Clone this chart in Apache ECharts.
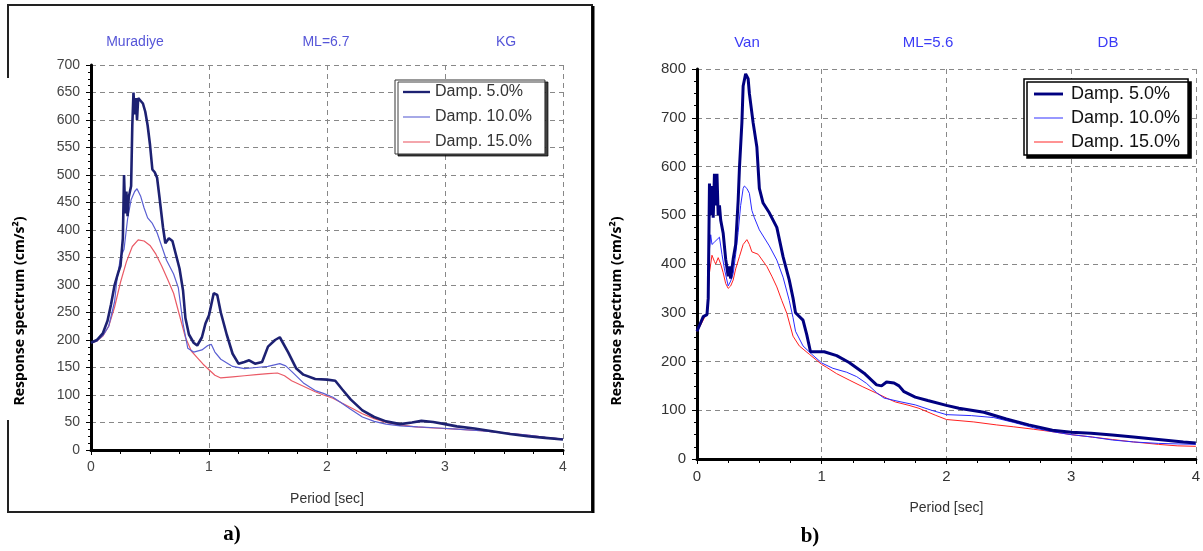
<!DOCTYPE html>
<html>
<head>
<meta charset="utf-8">
<script src="https://cdn.jsdelivr.net/npm/echarts@6/dist/echarts.min.js"></script>
<style>
  html, body { margin: 0; padding: 0; background: #fff; }
  #chart { width: 1203px; height: 551px; }
</style>
</head>
<body>
<div id="chart"></div>
<script>
// periods in sec, spectral acceleration in cm/s2
let seriesNames = ["Damp. 5.0%", "Damp. 10.0%", "Damp. 15.0%"];
let xTicks = [0, 1, 2, 3, 4];

// a) Muradiye, ML=6.7, KG
let muradiye5 = [[0,195],[0.05,200],[0.1,212],[0.14,235],[0.17,265],[0.2,300],[0.23,322],[0.25,335],[0.27,385],[0.28,500],[0.29,430],[0.3,470],[0.31,425],[0.32,460],[0.34,480],[0.35,590],[0.36,650],[0.37,610],[0.38,640],[0.39,600],[0.4,640],[0.42,635],[0.44,630],[0.46,615],[0.48,590],[0.5,555],[0.52,510],[0.54,505],[0.56,495],[0.58,460],[0.61,405],[0.63,376],[0.66,385],[0.69,380],[0.72,355],[0.75,330],[0.78,290],[0.8,240],[0.83,210],[0.87,195],[0.9,190],[0.94,205],[0.97,230],[1.0,245],[1.04,285],[1.07,282],[1.1,250],[1.15,210],[1.2,175],[1.25,157],[1.3,160],[1.34,163],[1.39,157],[1.45,160],[1.5,188],[1.56,200],[1.6,205],[1.67,178],[1.74,148],[1.8,137],[1.9,129],[2.0,128],[2.07,126],[2.13,110],[2.2,92],[2.3,72],[2.4,60],[2.5,52],[2.62,47],[2.72,50],[2.8,53],[2.9,51],[3.0,47],[3.1,43],[3.25,39],[3.4,34],[3.55,29],[3.7,25],[3.85,22],[4.0,19]];
let muradiye10 = [[0,195],[0.05,198],[0.1,208],[0.15,225],[0.2,270],[0.22,310],[0.25,350],[0.28,365],[0.31,420],[0.34,455],[0.37,470],[0.39,475],[0.42,462],[0.45,440],[0.48,422],[0.52,412],[0.56,395],[0.6,370],[0.64,345],[0.7,320],[0.74,295],[0.78,230],[0.82,185],[0.87,178],[0.94,182],[0.99,190],[1.02,192],[1.05,178],[1.1,165],[1.2,152],[1.3,148],[1.4,150],[1.5,152],[1.6,157],[1.65,153],[1.7,143],[1.8,122],[1.9,108],[1.97,103],[2.05,96],[2.12,86],[2.2,74],[2.3,60],[2.4,52],[2.5,47],[2.62,44],[2.77,42],[2.95,40],[3.1,38],[3.3,35],[3.5,31],[3.7,27],[3.85,23],[4.0,20]];
let muradiye15 = [[0,195],[0.05,198],[0.1,207],[0.15,225],[0.2,260],[0.25,305],[0.3,342],[0.35,370],[0.4,382],[0.45,380],[0.5,372],[0.55,356],[0.6,334],[0.65,310],[0.7,285],[0.75,245],[0.8,205],[0.85,180],[0.9,168],[0.95,156],[1.0,146],[1.05,136],[1.1,131],[1.2,133],[1.3,135],[1.4,137],[1.5,139],[1.58,140],[1.64,135],[1.7,126],[1.8,116],[1.9,106],[1.97,100],[2.05,94],[2.13,85],[2.22,75],[2.3,66],[2.4,57],[2.5,50],[2.6,46],[2.75,42],[2.9,40],[3.1,38],[3.3,35],[3.5,31],[3.7,27],[3.85,23],[4.0,20]];

// b) Van, ML=5.6, DB
let van5 = [[0,262],[0.03,280],[0.05,292],[0.08,296],[0.09,330],[0.1,565],[0.11,500],[0.12,560],[0.13,495],[0.14,585],[0.15,520],[0.16,585],[0.17,500],[0.18,520],[0.19,490],[0.21,463],[0.23,410],[0.25,375],[0.26,395],[0.27,370],[0.29,410],[0.31,440],[0.33,530],[0.34,595],[0.36,690],[0.37,765],[0.39,790],[0.4,792],[0.41,780],[0.42,750],[0.45,690],[0.48,640],[0.5,555],[0.53,525],[0.58,505],[0.64,475],[0.69,415],[0.74,367],[0.77,330],[0.79,300],[0.85,285],[0.88,255],[0.91,220],[0.96,220],[1.02,220],[1.12,212],[1.22,198],[1.34,176],[1.44,152],[1.48,150],[1.52,158],[1.58,156],[1.62,150],[1.66,138],[1.75,127],[1.85,120],[2.0,110],[2.1,104],[2.3,96],[2.48,82],[2.66,70],[2.85,59],[3.0,55],[3.16,53],[3.33,49],[3.5,45],[3.7,40],[3.9,35],[4.0,33]];
let van10 = [[0,262],[0.03,280],[0.05,292],[0.08,298],[0.09,330],[0.1,430],[0.11,460],[0.12,440],[0.14,445],[0.16,450],[0.18,455],[0.2,420],[0.22,390],[0.25,355],[0.27,365],[0.29,380],[0.31,420],[0.33,465],[0.35,520],[0.37,555],[0.38,560],[0.4,555],[0.42,545],[0.44,510],[0.46,495],[0.5,470],[0.58,437],[0.64,408],[0.69,373],[0.74,325],[0.77,290],[0.79,262],[0.85,232],[0.92,215],[1.0,197],[1.09,186],[1.2,178],[1.28,169],[1.36,155],[1.44,136],[1.5,125],[1.62,118],[1.75,111],[1.88,100],[2.0,91],[2.2,89],[2.38,85],[2.54,75],[2.7,64],[2.85,56],[3.0,50],[3.17,45],[3.33,39],[3.5,35],[3.7,32],[4.0,30]];
let van15 = [[0,262],[0.03,275],[0.05,285],[0.08,300],[0.1,382],[0.12,418],[0.14,405],[0.15,400],[0.17,413],[0.19,400],[0.21,382],[0.23,360],[0.25,350],[0.27,355],[0.29,367],[0.31,390],[0.34,415],[0.37,440],[0.4,450],[0.42,440],[0.44,425],[0.49,420],[0.56,395],[0.6,375],[0.64,353],[0.68,325],[0.72,299],[0.77,252],[0.82,232],[0.9,215],[1.0,194],[1.04,188],[1.12,175],[1.22,162],[1.33,148],[1.44,135],[1.52,125],[1.59,117],[1.7,110],[1.78,104],[1.91,90],[2.0,81],[2.22,76],[2.4,70],[2.54,66],[2.7,61],[2.85,56],[3.0,50],[3.17,45],[3.33,40],[3.5,35],[3.7,30],[3.85,27],[4.0,26]];

let colorsA = ["#1d2172", "#5a5fd2", "#ea5a66"];
let widthsA = [2.6, 1.2, 1.2];
let colorsB = ["#000080", "#2a2aff", "#ff2020"];
let widthsB = [3, 1, 1];

let chartDom = document.getElementById("chart");
let myChart = echarts.init(chartDom);

function bottomAxis(gridIndex, labelColor, fontSize) {
  return {
    type: "value",
    gridIndex: gridIndex,
    min: xTicks[0],
    max: xTicks[xTicks.length - 1],
    interval: 1,
    name: "Period [sec]",
    nameLocation: "middle",
    nameGap: 42,
    nameTextStyle: { color: "#333", fontSize: 14, fontFamily: "Liberation Sans" },
    axisLine: { show: true, onZero: false, lineStyle: { color: "#000", width: 3 } },
    axisTick: { show: true, length: 5, lineStyle: { color: "#000" } },
    minorTick: { show: true, splitNumber: 4, length: 4, lineStyle: { color: "#000" } },
    axisLabel: { color: labelColor, fontSize: fontSize, margin: 10, fontFamily: "Liberation Sans" },
    splitLine: { show: true, lineStyle: { color: "#888", type: [5, 4] } },
  };
}

function topBorder(gridIndex) {
  return {
    type: "value",
    gridIndex: gridIndex,
    position: "top",
    min: 0,
    max: 4,
    axisLine: { show: true, lineStyle: { color: "#000", width: 1.5 } },
    axisTick: { show: false },
    axisLabel: { show: false },
    splitLine: { show: false },
  };
}

function leftAxis(gridIndex, max, interval, labelColor, fontSize) {
  return {
    type: "value",
    gridIndex: gridIndex,
    min: 0,
    max: max,
    interval: interval,
    axisLine: { show: true, onZero: false, lineStyle: { color: "#000", width: 3 } },
    axisTick: { show: true, length: 5, lineStyle: { color: "#000" } },
    minorTick: { show: true, splitNumber: 4, length: 3, lineStyle: { color: "#000" } },
    axisLabel: { color: labelColor, fontSize: fontSize, margin: 11, fontFamily: "Liberation Sans" },
    splitLine: { show: true, lineStyle: { color: "#888", type: [5, 4] } },
  };
}

function makeSeries(list, colors, widths, axisIndex) {
  return list.map((data, i) => {
    return {
      name: seriesNames[i],
      type: "line",
      xAxisIndex: axisIndex,
      yAxisIndex: axisIndex,
      data: data,
      symbol: "none",
      z: 10 - i,
      lineStyle: { color: colors[i], width: widths[i] },
      itemStyle: { color: colors[i] },
      emphasis: { disabled: true },
    };
  });
}

// legend shows a plain bar as thick as the line, no marker
function legendData(colors, widths) {
  return seriesNames.map((name, i) => {
    return {
      name: name,
      icon: "path://M0,0H30V" + widths[i] + "H0Z",
      itemStyle: { color: colors[i], borderWidth: 0 },
    };
  });
}

let headerA = [["Muradiye", 135], ["ML=6.7", 326], ["KG", 506]];
let headerB = [["Van", 747], ["ML=5.6", 928], ["DB", 1108]];

let graphics = [
  {
    type: "polyline",
    shape: { points: [[8, 78], [8, 5], [592, 5], [592, 512], [8, 512], [8, 420]] },
    style: { stroke: "#222", lineWidth: 2, fill: null },
  },
  {
    type: "line",
    shape: { x1: 593, y1: 6, x2: 593, y2: 513 },
    style: { stroke: "#000", lineWidth: 3 },
  },
];
headerA.forEach((h) => {
  graphics.push({
    type: "text", x: h[1], y: 42,
    style: { text: h[0], fill: "#5656d8", font: "14px 'Liberation Sans'", textAlign: "center", textVerticalAlign: "middle" },
  });
});
headerB.forEach((h) => {
  graphics.push({
    type: "text", x: h[1], y: 43,
    style: { text: h[0], fill: "#3b3bf6", font: "15px 'Liberation Sans'", textAlign: "center", textVerticalAlign: "middle" },
  });
});
[[20, 311], [617, 311]].forEach((p) => {
  graphics.push({
    type: "text", x: p[0], y: p[1], rotation: Math.PI / 2,
    style: { text: "Response spectrum (cm/s²)", fill: "#000", font: "bold 14px 'Open Sans'", textAlign: "center", textVerticalAlign: "middle" },
  });
});
[["a)", 232, 535], ["b)", 810, 537]].forEach((p) => {
  graphics.push({
    type: "text", x: p[1], y: p[2],
    style: { text: p[0], fill: "#000", font: "bold 21px 'Liberation Serif'", textAlign: "center", textVerticalAlign: "middle" },
  });
});

let option = {
  backgroundColor: "#fff",
  animation: false,
  grid: [
    { left: 91, top: 65, width: 472, height: 385 },
    { left: 697, top: 69, width: 503, height: 390 },
  ],
  xAxis: [
    bottomAxis(0, "#444", 14),
    bottomAxis(1, "#333", 15),
    topBorder(0),
    topBorder(1),
  ],
  yAxis: [
    leftAxis(0, 700, 50, "#444", 14),
    leftAxis(1, 800, 100, "#333", 15),
  ],
  legend: [
    {
      left: 395,
      top: 80,
      orient: "vertical",
      itemWidth: 27,
      itemHeight: 14,
      itemGap: 7,
      padding: [3, 13, 3, 8],
      borderColor: "#333",
      borderWidth: 1,
      backgroundColor: "#fff",
      shadowColor: "rgba(0,0,0,0.75)",
      shadowOffsetX: 3,
      shadowOffsetY: 2,
      shadowBlur: 0,
      selectedMode: false,
      textStyle: { color: "#333", fontSize: 16, lineHeight: 18, fontFamily: "Liberation Sans" },
      data: legendData(colorsA, widthsA),
    },
    {
      left: 1024,
      top: 79,
      orient: "vertical",
      itemWidth: 29,
      itemHeight: 14,
      itemGap: 6,
      padding: [6, 8, 4, 10],
      borderColor: "#000",
      borderWidth: 1.5,
      backgroundColor: "#fff",
      shadowColor: "#000",
      shadowOffsetX: 3,
      shadowOffsetY: 3,
      shadowBlur: 0,
      selectedMode: false,
      textStyle: { color: "#111", fontSize: 18, lineHeight: 18, fontFamily: "Liberation Sans", padding: [0, 0, 0, 3] },
      data: legendData(colorsB, widthsB),
    },
  ],
  graphic: graphics,
  series: makeSeries([muradiye5, muradiye10, muradiye15], colorsA, widthsA, 0)
    .concat(makeSeries([van5, van10, van15], colorsB, widthsB, 1)),
};

myChart.setOption(option);
</script>
</body>
</html>
